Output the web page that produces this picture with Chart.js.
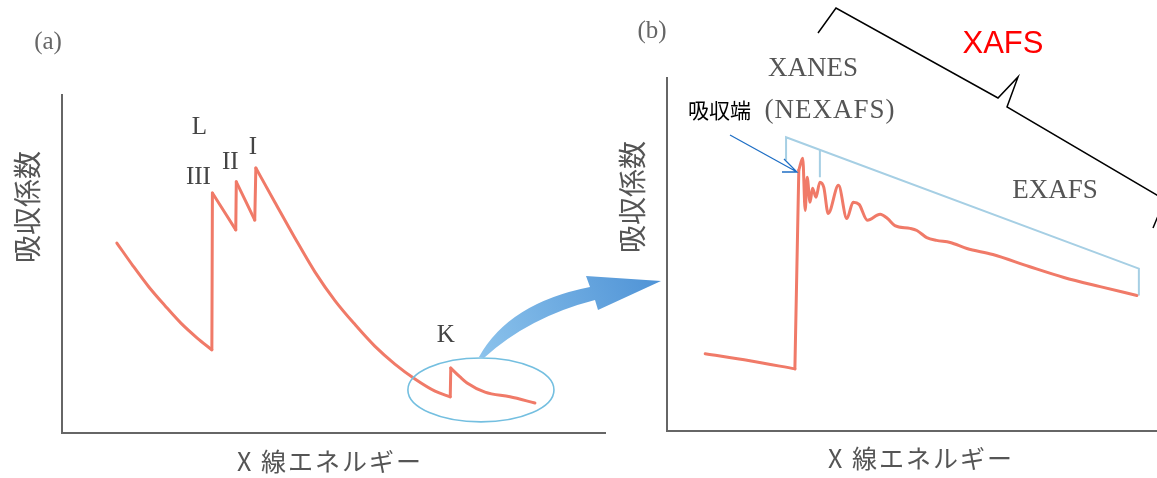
<!DOCTYPE html>
<html lang="ja">
<head>
<meta charset="utf-8">
<title>XAFS</title>
<script src="https://cdn.jsdelivr.net/npm/chart.js@4.4.1/dist/chart.umd.min.js"></script>
<style>
  html, body { margin: 0; padding: 0; background: #fff; }
  #wrap { position: relative; width: 1157px; height: 478px; overflow: hidden; }
  #wrap canvas { position: absolute; left: 0; top: 0; }
</style>
</head>
<body>
<div id="wrap">
  <canvas id="chartA" width="1157" height="478"></canvas>
  <canvas id="chartB" width="1157" height="478"></canvas>
</div>
<script>
// (a) absorption coefficient vs X-ray energy (arbitrary units), L3/L2/L1 and K edges
const aEnergy = [10.1, 13.1, 16.0, 19.0, 21.9, 24.9, 27.6, 27.7, 32.0, 32.1, 35.5, 35.7,
                 39.2, 42.9, 46.6, 50.3, 54.0, 57.6, 61.3, 65.0, 68.7, 71.5,
                 71.6, 73.3, 74.6, 77.9, 82.5, 87.1];
const aAbsorb = [56.2, 49.4, 43.2, 37.6, 32.5, 28.1, 24.6, 71.0, 60.1, 74.3, 63.0, 78.4,
                 68.3, 57.7, 47.6, 39.1, 32.0, 25.7, 20.4, 16.0, 12.4, 10.7,
                 19.2, 16.6, 14.8, 12.1, 10.7, 8.9];
// indices where the line has a sharp corner (absorption edges)
const aBreaks = [6, 7, 8, 9, 10, 11, 21, 22];
const aEdgeLabels = ['III', 'II', 'I', 'K'];
const aEdgeIndex = [7, 9, 11, 22];
// ellipse round the K edge
const kRegionEnergy = [63.7, 90.6];
const kRegionAbsorb = [3.3, 22.2];

// (b) the K edge enlarged: XANES + EXAFS wiggles
const bEnergy = [7.8, 16.9, 26.1, 26.9, 27.7, 28.2, 28.6, 29.2, 29.7, 30.4, 31.2, 32.0,
                 32.9, 35.0, 36.7, 38.0, 39.2, 40.9, 43.5, 45.0, 46.5, 49.6, 51.0, 53.0,
                 55.0, 57.8, 61.2, 66.5, 73.9, 81.0, 88.4, 95.9];
const bAbsorb = [21.9, 19.9, 17.6, 73.9, 77.3, 62.5, 71.9, 64.8, 68.8, 66.2, 70.5, 69.0,
                 61.6, 69.6, 60.2, 64.8, 64.2, 59.7, 61.4, 60.2, 58.2, 57.4, 56.8, 54.8,
                 54.0, 53.4, 51.7, 50.0, 46.6, 43.5, 40.9, 38.4];
const bBreaks = [2, 3];
// XANES / EXAFS range marker
const bRangeEnergy = [24.3, 24.3, 96.3, 96.3, null, 31.2, 31.2];
const bRangeLevel = [76.7, 83.2, 46.0, 38.4, null, 71.9, 79.5];

const RED = '#f07a68';
const AXIS = '#666';
const SERIF = '"Liberation Serif", "DejaVu Serif", serif';
const SANS = '"Liberation Sans", Arial, sans-serif';
const CJK = '"Noto Sans CJK JP", "Noto Sans", sans-serif';

function pts(xs, ys) {
    return xs.map((x, i) => ({ x: x, y: ys[i] }));
}

// cut a curve at its corners so each smooth piece gets its own monotone spline
function pieces(xs, ys, breaks, style) {
    const cuts = [0].concat(breaks, [xs.length - 1]);
    const out = [];
    for (let i = 0; i < cuts.length - 1; i++) {
        out.push(Object.assign({
            data: pts(xs.slice(cuts[i], cuts[i + 1] + 1), ys.slice(cuts[i], cuts[i + 1] + 1)),
            pointRadius: 0,
            cubicInterpolationMode: 'monotone',
            borderCapStyle: 'round',
            borderJoinStyle: 'round'
        }, style));
    }
    return out;
}

function text(ctx, str, x, y, font, color, align, spacing) {
    ctx.save();
    ctx.font = font;
    ctx.fillStyle = color;
    ctx.textAlign = align || 'center';
    ctx.textBaseline = 'middle';
    if (spacing) ctx.letterSpacing = spacing;
    ctx.fillText(str, x, y);
    ctx.restore();
}

function vtext(ctx, str, x, y, font, color, spacing) {
    ctx.save();
    ctx.translate(x, y);
    ctx.rotate(-Math.PI / 2);
    text(ctx, str, 0, 0, font, color, 'center', spacing);
    ctx.restore();
}

function axes() {
    const common = {
        type: 'linear', min: 0, max: 100,
        grid: { display: false, drawTicks: false },
        ticks: { display: false },
        border: { display: true, color: AXIS, width: 2 }
    };
    return { x: Object.assign({}, common), y: Object.assign({}, common) };
}

// ── panel (a) overlay: edge labels, ellipse, big arrow ──
const panelA = {
    id: 'panelA',
    afterDatasetsDraw(chart) {
        const ctx = chart.ctx, xs = chart.scales.x, ys = chart.scales.y;

        aEdgeLabels.forEach((lab, i) => {
            const k = aEdgeIndex[i];
            const px = xs.getPixelForValue(aEnergy[k]);
            const py = ys.getPixelForValue(aAbsorb[k]);
            const off = [[-14, -16], [-6, -19], [-3, -21], [-5, -33]][i];
            text(ctx, lab, px + off[0], py + off[1], '25px ' + SERIF, '#444');
        });
        const l3x = xs.getPixelForValue(aEnergy[aEdgeIndex[0]]);
        const l3y = ys.getPixelForValue(aAbsorb[aEdgeIndex[0]]);
        text(ctx, 'L', l3x - 13, l3y - 66, '25px ' + SERIF, '#444');

        // ellipse
        const x0 = xs.getPixelForValue(kRegionEnergy[0]), x1 = xs.getPixelForValue(kRegionEnergy[1]);
        const y0 = ys.getPixelForValue(kRegionAbsorb[0]), y1 = ys.getPixelForValue(kRegionAbsorb[1]);
        const cx = (x0 + x1) / 2, cy = (y0 + y1) / 2;
        ctx.save();
        ctx.strokeStyle = '#74bfe0';
        ctx.lineWidth = 1.6;
        ctx.beginPath();
        ctx.ellipse(cx, cy, (x1 - x0) / 2, (y0 - y1) / 2, 0, 0, Math.PI * 2);
        ctx.stroke();

        // big curved arrow from the ellipse to panel (b)
        const tx = cx - 2, ty = y1 - 1;
        const g = ctx.createLinearGradient(tx, ty, 660, 281);
        g.addColorStop(0, '#8cc3ec');
        g.addColorStop(1, '#4f93d6');
        ctx.fillStyle = g;
        ctx.beginPath();
        ctx.moveTo(tx, ty);
        ctx.quadraticCurveTo(tx + 30, ty - 54, 590, 287);
        ctx.lineTo(586, 276);
        ctx.lineTo(661, 281);
        ctx.lineTo(598, 310);
        ctx.lineTo(595, 300);
        ctx.quadraticCurveTo(tx + 50, ty - 40, tx + 5, ty + 1);
        ctx.closePath();
        ctx.fill();
        ctx.restore();

        text(ctx, '(a)', 48, 42, '25px ' + SERIF, '#666');
        vtext(ctx, '吸収係数', 27, 207, '28px ' + CJK, '#555');
        text(ctx, 'X 線エネルギー', 330, 461, '25px ' + CJK, '#555', 'center', '2px');
    }
};

// ── panel (b) overlay: texts, XAFS brace, small arrow ──
const panelB = {
    id: 'panelB',
    afterDatasetsDraw(chart) {
        const ctx = chart.ctx;
        text(ctx, '(b)', 652, 31, '25px ' + SERIF, '#666');
        vtext(ctx, '吸収係数', 632, 197, '28px ' + CJK, '#555');
        text(ctx, 'X 線エネルギー', 921, 458, '25px ' + CJK, '#555', 'center', '2px');

        text(ctx, 'XANES', 813, 69, '27px ' + SERIF, '#555');
        text(ctx, '吸収端', 688, 110, '21px ' + CJK, '#000', 'left');
        text(ctx, '(NEXAFS)', 830, 111, '27px ' + SERIF, '#555', 'center', '1px');
        text(ctx, 'EXAFS', 1055, 191, '27px ' + SERIF, '#555');
        text(ctx, 'XAFS', 1003, 44, '31px ' + SANS, '#ff0000');

        ctx.save();
        // brace over the XAFS range
        ctx.strokeStyle = '#000';
        ctx.lineWidth = 1.5;
        ctx.beginPath();
        ctx.moveTo(818, 33);
        ctx.lineTo(836, 8);
        ctx.lineTo(998, 98);
        ctx.lineTo(1018, 77);
        ctx.lineTo(1007, 107);
        ctx.lineTo(1160, 197);
        ctx.moveTo(1153, 228);
        ctx.lineTo(1158, 216);
        ctx.stroke();

        // small arrow pointing at the edge
        ctx.strokeStyle = '#1f6fc5';
        ctx.lineWidth = 1.3;
        ctx.beginPath();
        ctx.moveTo(730, 135);
        ctx.lineTo(797, 172);
        ctx.moveTo(784, 159);
        ctx.lineTo(797, 172);
        ctx.lineTo(782, 172);
        ctx.stroke();
        ctx.restore();
    }
};

new Chart(document.getElementById('chartA'), {
    type: 'line',
    data: { datasets: pieces(aEnergy, aAbsorb, aBreaks, { borderColor: RED, borderWidth: 3 }) },
    options: {
        responsive: false,
        animation: false,
        devicePixelRatio: 1,
        layout: { padding: { left: 62, top: 95, right: 552, bottom: 45 } },
        plugins: { legend: { display: false }, tooltip: { enabled: false } },
        scales: axes()
    },
    plugins: [panelA]
});

const bCurve = pieces(bEnergy, bAbsorb, bBreaks, { borderColor: RED, borderWidth: 3, order: 0 });
new Chart(document.getElementById('chartB'), {
    type: 'line',
    data: {
        datasets: bCurve.concat([{
            data: pts(bRangeEnergy, bRangeLevel),
            borderColor: '#a6cfe4',
            borderWidth: 2,
            pointRadius: 0,
            tension: 0,
            spanGaps: false,
            order: 1
        }])
    },
    options: {
        responsive: false,
        animation: false,
        devicePixelRatio: 1,
        layout: { padding: { left: 667, top: 78, right: 0, bottom: 47 } },
        plugins: { legend: { display: false }, tooltip: { enabled: false } },
        scales: axes()
    },
    plugins: [panelB]
});
</script>
</body>
</html>
